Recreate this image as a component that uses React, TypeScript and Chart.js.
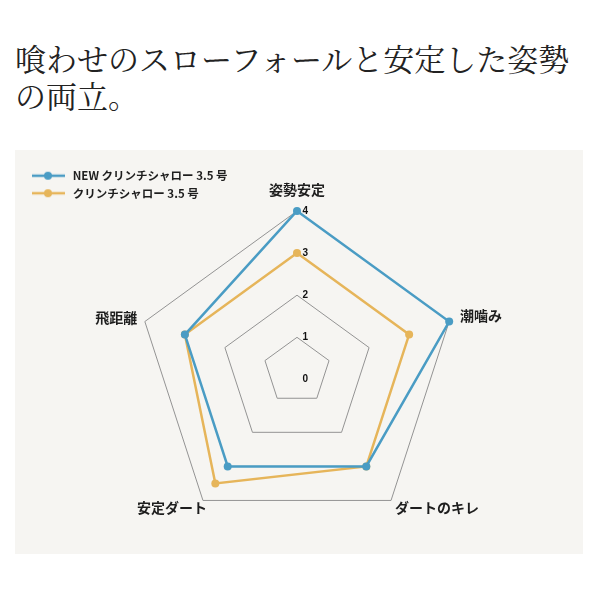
import React, { useEffect, useRef } from 'react';
import { Chart, registerables } from 'chart.js';

Chart.register(...registerables);

const TITLE_LINE_1 = '喰わせのスローフォールと安定した姿勢';
const TITLE_LINE_2 = 'の両立。';

const CATEGORIES = ['姿勢安定', '潮噛み', 'ダートのキレ', '安定ダート', '飛距離'];
const SERIES_NAMES = ['NEW クリンチシャロー 3.5 号', 'クリンチシャロー 3.5 号'];
const NEW_VALUES = [4, 4, 3, 3, 3];
const OLD_VALUES = [3, 3, 3, 3.5, 3];
const TICK_VALUES = [0, 1, 2, 3, 4];
const SCALE_MIN = 0.2;
const SCALE_MAX = 4;

const COLORS = ['#4a9cc4', '#e6b55a'];
const CJK_FONT = "'Noto Sans CJK JP', 'Noto Sans', sans-serif";
const DIGIT_FONT = "'Liberation Sans', Arial, sans-serif";
const TICK_PAD = '      ';

// per point-label placement styles (padding / line height in px)
const LABEL_PADDING = [4, 6.4, 1.7, -12, 3];
const LABEL_LINE_HEIGHT = [24, 4, 4.2, 26.4, 2];

function makeLegendMarker(color: string) {
  const c = document.createElement('canvas');
  c.width = 46;
  c.height = 10;
  const g = c.getContext('2d')!;
  g.strokeStyle = color;
  g.lineWidth = 2.5;
  g.beginPath();
  g.moveTo(11, 5);
  g.lineTo(44, 5);
  g.stroke();
  g.fillStyle = color;
  g.beginPath();
  g.arc(27, 5, 4, 0, Math.PI * 2);
  g.fill();
  return c;
}

function RadarChart() {
  const ref = useRef<HTMLCanvasElement | null>(null);
  useEffect(() => {
    if (!ref.current) return;
    const markers = COLORS.map((c) => makeLegendMarker(c));
    const makeSet = (label: string, data: number[], color: string) => ({
      label,
      data,
      borderColor: color,
      backgroundColor: color,
      pointBackgroundColor: color,
      pointBorderColor: color,
      pointRadius: 4,
      pointBorderWidth: 0,
      borderWidth: 2.5,
      fill: false,
    });
    const chart = new Chart(ref.current, {
      type: 'radar',
      data: {
        labels: CATEGORIES,
        datasets: [
          makeSet(SERIES_NAMES[0], NEW_VALUES, COLORS[0]),
          makeSet(SERIES_NAMES[1], OLD_VALUES, COLORS[1]),
        ],
      },
      options: {
        responsive: false,
        animation: false,
        layout: { padding: { top: 14, right: 3, bottom: 4, left: 0 } },
        plugins: {
          tooltip: { enabled: false },
          legend: {
            position: 'chartArea',
            align: 'start',
            title: {
              display: true,
              text: ' ',
              padding: { top: 0, bottom: 2 },
              font: { size: 10 },
            },
            labels: {
              usePointStyle: true,
              pointStyleWidth: 46,
              padding: 6,
              color: '#1e1e1e',
              font: { family: CJK_FONT, size: 11.5, weight: 'bold' },
              generateLabels: (ch: any) => {
                const items = (Chart as any).defaults.plugins.legend.labels.generateLabels(ch);
                return items.map((it: any, i: number) => ({ ...it, pointStyle: markers[i] }));
              },
            },
          },
        },
        scales: {
          r: {
            min: SCALE_MIN,
            max: SCALE_MAX,
            afterBuildTicks: (scale: any) => {
              scale.ticks = [{ value: SCALE_MIN }, ...TICK_VALUES.map((v) => ({ value: v }))];
            },
            angleLines: { display: false },
            grid: { color: '#939393', lineWidth: 1 },
            ticks: {
              showLabelBackdrop: false,
              backdropPadding: 0,
              color: '#111',
              font: { family: DIGIT_FONT, size: 10, weight: 'bold' },
              callback: (v: any) => (v === SCALE_MIN ? '' : TICK_PAD + v),
            },
            pointLabels: {
              color: '#1e1e1e',
              padding: (ctx: any) => LABEL_PADDING[ctx.index],
              font: (ctx: any) => ({
                family: CJK_FONT,
                size: 14,
                weight: 'bold',
                lineHeight: `${LABEL_LINE_HEIGHT[ctx.index]}px`,
              }),
            },
          },
        },
      } as any,
    });
    return () => chart.destroy();
  }, []);
  return <canvas ref={ref} width={568} height={404} style={{ display: 'block' }} />;
}

export default function App() {
  return (
    <div style={{ position: 'absolute', left: 0, top: 0, width: 600, height: 600, background: '#fff' }}>
      <div
        style={{
          position: 'absolute',
          left: 15,
          top: 39,
          fontFamily: "'Noto Serif CJK JP', serif",
          fontSize: 31,
          lineHeight: '37px',
          color: '#222',
          whiteSpace: 'nowrap',
        }}
      >
        {TITLE_LINE_1}
        <br />
        {TITLE_LINE_2}
      </div>
      <div
        style={{
          position: 'absolute',
          left: 15,
          top: 150,
          width: 568,
          height: 404,
          background: '#f6f5f2',
        }}
      >
        <RadarChart />
      </div>
    </div>
  );
}
